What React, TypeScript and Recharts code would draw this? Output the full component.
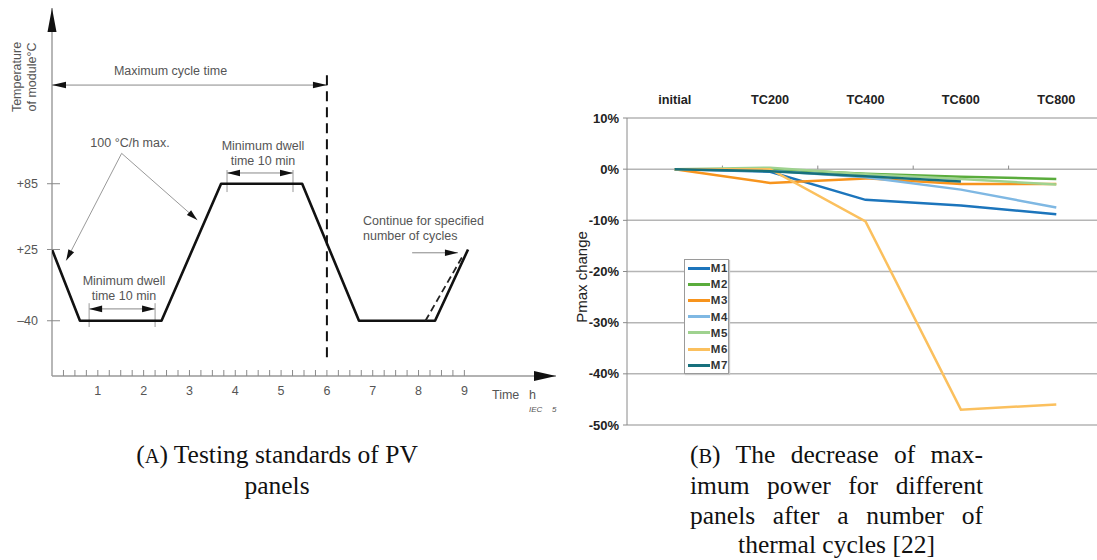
import React from 'react';
import {
  CartesianGrid,
  Legend,
  Line,
  LineChart,
  ReferenceLine,
  XAxis,
  YAxis,
} from 'recharts';

// ---------- panel A: thermal cycling profile ----------
const cycleHours = [0, 0.61, 2.39, 3.69, 5.46, 6.7, 8.36, 9.08];
const cycleTemps = [25, -40, -40, 85, 85, -40, -40, 25];
const altHours = [8.15, 8.95];
const altTemps = [-40, 18];
const tempTicks = [-40, 25, 85];
const hourTicks = Array.from({ length: 36 }, (_, i) => (i + 1) * 0.25);

// annotation segments in data space: [h1, t1, h2, t2]
const maxCycleArrow = [0, 175, 6, 175];
const cycleEndLine = [6, 184, 6, -77.6];
const dwellTop = [3.82, 94.8, 5.26, 94.8];
const dwellTopTicks = [3.82, 5.26];
const dwellTopSpan = [97.5, 77.4];
const dwellBottom = [0.81, -29.2, 2.25, -29.2];
const dwellBottomTicks = [0.81, 2.25];
const dwellBottomSpan = [-24, -45.7];
const rampApex = [1.52, 112.7];
const rampTargets = [
  [0.31, 15],
  [3.17, 52],
];
const continueArrow = [7.86, 22, 8.86, 22];

const cycleData = cycleHours.map((h, i) => ({ h, t: cycleTemps[i] }));
const altData = altHours.map((h, i) => ({ h, t: altTemps[i] }));

// ---------- panel B: Pmax change ----------
const stages = ['initial', 'TC200', 'TC400', 'TC600', 'TC800'];
const m1 = [0, -0.5, -6.0, -7.1, -8.8];
const m2 = [0, 0, -0.9, -1.5, -1.9];
const m3 = [0, -2.7, -1.8, -2.9, -2.9];
const m4 = [0, -0.3, -1.6, -4.0, -7.5];
const m5 = [0, 0.3, -1.0, -1.9, -3.0];
const m6 = [0, 0, -10.2, -47.0, -46.0];
const m7 = [0, -0.4, -1.4, -2.4, null];
const pctTicks = [-50, -40, -30, -20, -10, 0, 10];
const stagePos = [0.5, 1.5, 2.5, 3.5, 4.5];
const stageBounds = [1, 2, 3, 4];

const modules = [
  { key: 'M1', values: m1, color: '#1c75bc' },
  { key: 'M2', values: m2, color: '#5aac3c' },
  { key: 'M3', values: m3, color: '#f7941d' },
  { key: 'M4', values: m4, color: '#7fb8e3' },
  { key: 'M5', values: m5, color: '#9fd28f' },
  { key: 'M6', values: m6, color: '#fbc05e' },
  { key: 'M7', values: m7, color: '#17707c' },
];

const pmaxData = stages.map((stage, i) => {
  const row: Record<string, any> = { stage, pos: stagePos[i] };
  modules.forEach(m => (row[m.key] = m.values[i]));
  return row;
});

type ArrowOpts = {
  stroke: string;
  width: number;
  start?: boolean;
  end?: boolean;
  head?: number;
  headW?: number;
  headFill?: string;
  dash?: string;
};

const arrowShape = (o: ArrowOpts) => (p: any) => {
  const { x1, y1, x2, y2 } = p;
  const ang = Math.atan2(y2 - y1, x2 - x1);
  const h = o.head ?? 10;
  const w = o.headW ?? 3;
  const tri = (x: number, y: number, a: number) => {
    const bx = x - h * Math.cos(a);
    const by = y - h * Math.sin(a);
    const nx = -Math.sin(a) * w;
    const ny = Math.cos(a) * w;
    return `${x},${y} ${bx + nx},${by + ny} ${bx - nx},${by - ny}`;
  };
  return (
    <g>
      <line x1={x1} y1={y1} x2={x2} y2={y2} stroke={o.stroke} strokeWidth={o.width} strokeDasharray={o.dash} />
      {o.end && <polygon points={tri(x2, y2, ang)} fill={o.headFill ?? '#111'} />}
      {o.start && <polygon points={tri(x1, y1, ang + Math.PI)} fill={o.headFill ?? '#111'} />}
    </g>
  );
};

const seg = (a: number[]) => [
  { x: a[0], y: a[1] },
  { x: a[2], y: a[3] },
];

const HourTick = (p: any) => {
  const v = p.payload.value;
  const isInt = Math.abs(v - Math.round(v)) < 1e-6;
  return (
    <g>
      <line x1={p.x} x2={p.x} y1={p.y} y2={p.y - 6} stroke='#8a8a8a' strokeWidth={1} />
      {isInt && (
        <text x={p.x} y={p.y + 18.5} textAnchor='middle' fontSize={12.5} fill='#555'>
          {v}
        </text>
      )}
    </g>
  );
};

const TempTick = (p: any) => {
  const v = p.payload.value;
  const label = v > 0 ? `+${v}` : `\u2013${Math.abs(v)}`;
  return (
    <g>
      <line x1={p.x - 5} x2={p.x + 8} y1={p.y} y2={p.y} stroke='#8a8a8a' strokeWidth={1} />
      <text x={p.x - 14} y={p.y + 4.5} textAnchor='end' fontSize={12.5} fill='#555'>
        {label}
      </text>
    </g>
  );
};

const Note = ({ x, y, lines, align = 'center', size = 12.5, italic = false }: any) => (
  <div
    style={{
      position: 'absolute',
      left: x,
      top: y,
      transform: align === 'center' ? 'translate(-50%, -50%)' : 'translate(0, -50%)',
      textAlign: align,
      fontSize: size,
      lineHeight: '15px',
      color: '#555',
      whiteSpace: 'nowrap',
      fontStyle: italic ? 'italic' : 'normal',
    }}
  >
    {lines.map((l: string) => (
      <div key={l}>{l}</div>
    ))}
  </div>
);

const renderLegend = (props: any) => (
  <div
    style={{
      border: '1px solid #9a9a9a',
      background: '#fff',
      boxShadow: '1px 1px 1px #c8c8c8',
      width: 43,
    }}
  >
    {(props.payload || []).map((e: any) => (
      <div key={e.value} style={{ display: 'flex', alignItems: 'center', height: 16.2 }}>
        <span style={{ display: 'inline-block', width: 22, height: 3, background: e.color, marginLeft: 3 }} />
        <span style={{ fontSize: 11.5, fontWeight: 'bold', color: '#333', marginLeft: 1, letterSpacing: 0.6 }}>
          {e.value}
        </span>
      </div>
    ))}
  </div>
);

const captionStyle: React.CSSProperties = {
  position: 'absolute',
  fontFamily: "'Liberation Serif', serif",
  fontSize: 25.5,
  lineHeight: '29.5px',
  color: '#111',
};

const just = (last: 'justify' | 'center'): React.CSSProperties => ({
  textAlign: last === 'justify' ? 'justify' : 'center',
  textAlignLast: last,
  whiteSpace: 'nowrap',
});

export default function App() {
  return (
    <div
      style={{
        position: 'absolute',
        left: 0,
        top: 0,
        width: 1097,
        height: 560,
        overflow: 'hidden',
        background: '#fff',
        fontFamily: "'Liberation Sans', Arial, sans-serif",
      }}
    >
      {/* panel A */}
      <div style={{ position: 'absolute', left: 0, top: 0 }}>
        <LineChart width={560} height={420} margin={{ top: 8, right: 4, left: 12, bottom: 14 }}>
          <XAxis
            dataKey='h'
            type='number'
            domain={[0, 11]}
            allowDataOverflow
            ticks={hourTicks}
            interval={0}
            axisLine={false}
            tickLine={false}
            tickSize={0}
            tickMargin={0}
            height={30}
            tick={<HourTick />}
          />
          <YAxis
            dataKey='t'
            type='number'
            domain={[-90.4, 245.3]}
            allowDataOverflow
            ticks={tempTicks}
            interval={0}
            axisLine={false}
            tickLine={false}
            tickSize={0}
            tickMargin={0}
            width={40}
            tick={<TempTick />}
          />
          <ReferenceLine
            ifOverflow='visible'
            segment={seg([0, -90.4, 11, -90.4])}
            shape={arrowShape({ stroke: '#999', width: 1.4, end: true, head: 22, headW: 5 })}
          />
          <ReferenceLine
            ifOverflow='visible'
            segment={seg([0, -90.4, 0, 245.3])}
            shape={arrowShape({ stroke: '#999', width: 1.4, end: true, head: 24, headW: 4.5 })}
          />
          <ReferenceLine
            ifOverflow='visible'
            segment={seg(maxCycleArrow)}
            shape={arrowShape({ stroke: '#888', width: 1, start: true, end: true, head: 14, headW: 3.3 })}
          />
          <ReferenceLine
            ifOverflow='visible'
            segment={seg(cycleEndLine)}
            shape={arrowShape({ stroke: '#111', width: 2, dash: '10 6' })}
          />
          <ReferenceLine
            ifOverflow='visible'
            segment={seg(dwellTop)}
            shape={arrowShape({ stroke: '#888', width: 1, start: true, end: true, head: 13, headW: 3.3 })}
          />
          {dwellTopTicks.map(h => (
            <ReferenceLine
              key={`dt${h}`}
              ifOverflow='visible'
              segment={seg([h, dwellTopSpan[0], h, dwellTopSpan[1]])}
              shape={arrowShape({ stroke: '#999', width: 1 })}
            />
          ))}
          <ReferenceLine
            ifOverflow='visible'
            segment={seg(dwellBottom)}
            shape={arrowShape({ stroke: '#888', width: 1, start: true, end: true, head: 13, headW: 3.3 })}
          />
          {dwellBottomTicks.map(h => (
            <ReferenceLine
              key={`db${h}`}
              ifOverflow='visible'
              segment={seg([h, dwellBottomSpan[0], h, dwellBottomSpan[1]])}
              shape={arrowShape({ stroke: '#999', width: 1 })}
            />
          ))}
          {rampTargets.map(t => (
            <ReferenceLine
              key={`r${t[0]}`}
              ifOverflow='visible'
              segment={seg([rampApex[0], rampApex[1], t[0], t[1]])}
              shape={arrowShape({ stroke: '#999', width: 1, end: true, head: 11, headW: 3.2 })}
            />
          ))}
          <ReferenceLine
            ifOverflow='visible'
            segment={seg(continueArrow)}
            shape={arrowShape({ stroke: '#888', width: 1, end: true, head: 13, headW: 3.2 })}
          />
          <Line
            data={cycleData}
            dataKey='t'
            type='linear'
            stroke='#111'
            strokeWidth={2.6}
            strokeLinejoin='round'
            dot={false}
            activeDot={false}
            isAnimationActive={false}
          />
          <Line
            data={altData}
            dataKey='t'
            type='linear'
            stroke='#222'
            strokeWidth={1.8}
            strokeDasharray='7 4'
            dot={false}
            activeDot={false}
            isAnimationActive={false}
          />
        </LineChart>
        <div
          style={{
            position: 'absolute',
            left: 25,
            top: 77,
            transform: 'translate(-50%, -50%) rotate(-90deg)',
            fontSize: 12.5,
            lineHeight: '15px',
            color: '#555',
            textAlign: 'center',
            whiteSpace: 'nowrap',
          }}
        >
          <div>Temperature</div>
          <div>of module°C</div>
        </div>
        <Note x={170.5} y={71} lines={['Maximum cycle time']} />
        <Note x={130} y={143} lines={['100 °C/h max.']} />
        <Note x={263} y={153.5} lines={['Minimum dwell', 'time 10 min']} />
        <Note x={124} y={288.5} lines={['Minimum dwell', 'time 10 min']} />
        <Note x={363} y={228.5} lines={['Continue for specified', 'number of cycles']} align='left' />
        <Note x={492} y={395} lines={['Time']} align='left' />
        <Note x={529} y={395} lines={['h']} align='left' />
        <Note x={529} y={409} lines={['IEC']} align='left' size={8} italic />
        <Note x={552} y={409} lines={['5']} align='left' size={8} italic />
      </div>

      {/* panel B */}
      <div style={{ position: 'absolute', left: 560, top: 60 }}>
        <LineChart width={544} height={380} data={pmaxData} margin={{ top: 28, right: 0, left: 22, bottom: 15 }}>
          <CartesianGrid vertical={false} stroke='#b5b5b5' strokeWidth={1.5} />
          <XAxis
            dataKey='pos'
            type='number'
            domain={[0, 5]}
            allowDataOverflow
            ticks={stagePos}
            tickFormatter={v => stages[Math.floor(v)]}
            orientation='top'
            axisLine={false}
            tickLine={false}
            tickSize={6}
            tickMargin={8.5}
            interval={0}
            height={30}
            tick={{ fontSize: 12.7, fontWeight: 'bold', fill: '#222' }}
          />
          <YAxis
            domain={[-50, 10]}
            ticks={pctTicks}
            interval={0}
            width={45}
            tickSize={4}
            tickMargin={4}
            axisLine={{ stroke: '#8a8a8a' }}
            tickLine={{ stroke: '#8a8a8a' }}
            tickFormatter={v => `${v}%`}
            tick={{ fontSize: 13, fontWeight: 'bold', fill: '#222' }}
          />
          {stageBounds.map(b => (
            <ReferenceLine
              key={`sb${b}`}
              ifOverflow='visible'
              segment={[
                { x: b, y: 0 },
                { x: b, y: 0.7 },
              ]}
              stroke='#8a8a8a'
            />
          ))}
          {modules.map(m => (
            <Line
              key={m.key}
              dataKey={m.key}
              name={m.key}
              type='linear'
              stroke={m.color}
              strokeWidth={2.5}
              dot={false}
              activeDot={false}
              isAnimationActive={false}
            />
          ))}
          <Legend
            layout='horizontal'
            align='center'
            verticalAlign='middle'
            wrapperStyle={{ left: 124, top: 199, width: 45, height: 115 }}
            content={renderLegend}
          />
        </LineChart>
        <div
          style={{
            position: 'absolute',
            left: 21,
            top: 217,
            transform: 'translate(-50%, -50%) rotate(-90deg)',
            fontSize: 15,
            color: '#222',
            whiteSpace: 'nowrap',
          }}
        >
          Pmax change
        </div>
      </div>

      {/* captions */}
      <div style={{ ...captionStyle, left: 127, top: 439.6, width: 300, textAlign: 'center' }}>
        <div>
          (<span style={{ fontSize: '0.8em' }}>A</span>) Testing standards of PV
        </div>
        <div>panels</div>
      </div>
      <div style={{ ...captionStyle, left: 690, top: 439.6, width: 293 }}>
        <div style={just('justify')}>
          (<span style={{ fontSize: '0.8em' }}>B</span>) The decrease of max-
        </div>
        <div style={just('justify')}>imum power for different</div>
        <div style={just('justify')}>panels after a number of</div>
        <div style={just('center')}>thermal cycles [22]</div>
      </div>
    </div>
  );
}
